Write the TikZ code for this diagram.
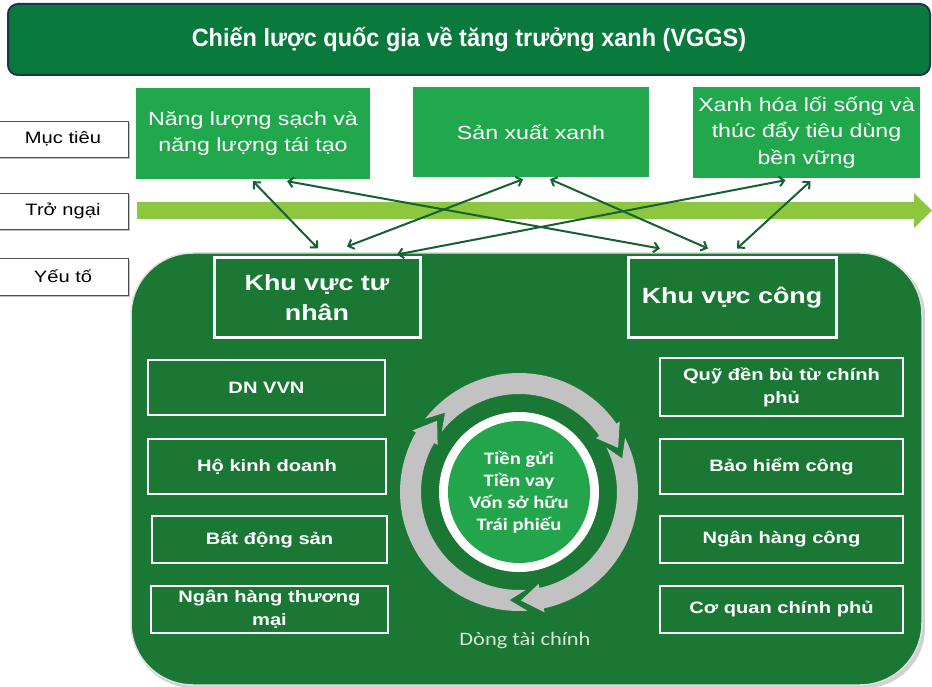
\documentclass[tikz,border=0pt]{standalone}
\usepackage{fontspec}
\setmainfont{Liberation Sans}
\newfontfamily\wfont[FakeStretch=1.22]{Liberation Sans}
\newfontfamily\tfont[FakeStretch=0.94]{Liberation Sans}
\newfontfamily\cfont[FakeStretch=1.18]{Carlito}
\usetikzlibrary{arrows.meta,calc}
\definecolor{titlegreen}{RGB}{10,122,60}
\definecolor{titleborder}{RGB}{28,52,80}
\definecolor{boxgreen}{RGB}{34,168,76}
\definecolor{regiongreen}{RGB}{27,120,52}
\definecolor{darkline}{RGB}{22,96,50}
\definecolor{bandgreen}{RGB}{141,198,63}
\definecolor{ringgray}{RGB}{194,194,194}
\definecolor{innergreen}{RGB}{34,165,75}
\definecolor{flowtext}{RGB}{215,232,215}
\newcommand\ringseg[2]{%
  \fill[ringgray] ({#1+1}:119) arc[start angle={#1+1}, end angle={#2-7}, radius=119]
    -- ({#2-7}:123) -- ({#2+4}:108.5) -- ({#2-7}:94) -- ({#2-7}:98)
    arc[start angle={#2-7}, end angle={#1+1}, radius=98]
    -- ({#1+10}:108.5) -- cycle;}
\begin{document}
\begin{tikzpicture}[x=1pt,y=-1pt,
  titlebox/.style={draw=titleborder, line width=2pt, fill=titlegreen, rounded corners=10pt,
    text=white, font=\tfont\bfseries\fontsize{25}{30}\selectfont, inner sep=0pt},
  lab/.style={draw=black!70, line width=0.8pt, fill=white, inner sep=0pt,
    font=\wfont\fontsize{16.5}{20}\selectfont},
  goal/.style={fill=boxgreen, text=white, inner sep=0pt, align=center,
    font=\wfont\fontsize{19}{26.5}\selectfont},
  kbox/.style={draw=white, line width=3pt, fill=regiongreen, text=white, inner sep=0pt, align=center,
    font=\wfont\bfseries\fontsize{22}{30}\selectfont},
  lbox/.style={draw=white, line width=2.5pt, fill=regiongreen, text=white, inner sep=0pt, align=center,
    font=\wfont\bfseries\fontsize{16.5}{23}\selectfont},
  conn/.style={draw=darkline, line width=2pt,
    {Straight Barb[length=5pt,width=10pt]}-{Straight Barb[length=5pt,width=10pt]}}]
\clip (0,0) rectangle (932,687);
\fill[white] (0,0) rectangle (932,687);
% title
\node[titlebox, minimum width=922, minimum height=71] (title) at (469,39.5)
  {Chiến lược quốc gia về tăng trưởng xanh (VGGS)};
% left labels
\fill[black!25] (-2,123) rectangle (130,159);
\node[lab, minimum width=130, minimum height=36] (l1) at (63,139) {Mục tiêu};
\fill[black!25] (-2,195) rectangle (130,231);
\node[lab, minimum width=130, minimum height=36] (l2) at (63,211) {Trở ngại};
\fill[black!25] (-2,260) rectangle (130,297);
\node[lab, minimum width=130, minimum height=37] (l3) at (63,276.5) {Yếu tố};
% goal boxes
\node[goal, minimum width=234, minimum height=91] (nl) at (253,133.5) {Năng lượng sạch và\\năng lượng tái tạo};
\node[goal, minimum width=236, minimum height=90] (sx) at (531,132) {Sản xuất xanh};
\node[goal, minimum width=227, minimum height=91] (xh) at (806.5,132.5) {Xanh hóa lối sống và\\thúc đẩy tiêu dùng\\bền vững};
% obstacle band arrow
\fill[bandgreen] (137,202) -- (914,202) -- (914,193) -- (932,210.5) -- (914,228) -- (914,219) -- (137,219) -- cycle;
% region
\fill[black!18, rounded corners=60pt] (133,256) rectangle (925,688);
\draw[draw=black!12, line width=1.5pt, fill=regiongreen, rounded corners=62pt] (131,253) rectangle (922,685);
% sector boxes
\node[kbox, minimum width=206, minimum height=79] (tn) at (317,297.5) {Khu vực tư\\nhân};
\node[kbox, minimum width=208, minimum height=79] (cg) at (732,297.5) {Khu vực công};
% lists
\node[lbox, minimum width=237, minimum height=55] (d1) at (266.5,387.5) {DN VVN};
\node[lbox, minimum width=238, minimum height=55] (d2) at (267,466.5) {Hộ kinh doanh};
\node[lbox, minimum width=235, minimum height=47] (d3) at (269.5,539.5) {Bất động sản};
\node[lbox, minimum width=237, minimum height=47] (d4) at (269.5,609.5) {Ngân hàng thương\\mại};
\node[lbox, minimum width=243, minimum height=58] (r1) at (781.5,387) {Quỹ đền bù từ chính\\phủ};
\node[lbox, minimum width=243, minimum height=55] (r2) at (781.5,466.5) {Bảo hiểm công};
\node[lbox, minimum width=243, minimum height=47] (r3) at (781.5,539.5) {Ngân hàng công};
\node[lbox, minimum width=243, minimum height=47] (r4) at (781.5,609.5) {Cơ quan chính phủ};
% cycle
\begin{scope}[shift={(519,492)}]
  \ringseg{-143}{-28}
  \ringseg{-28}{85}
  \ringseg{85}{217}
  \fill[white] (0,0) circle[radius=80];
\end{scope}
\node[circle, fill=innergreen, minimum size=142, inner sep=0pt, text=white, align=center,
  font=\cfont\bfseries\fontsize{17.5}{22}\selectfont] (core) at (519,492)
  {Tiền gửi\\Tiền vay\\Vốn sở hữu\\Trái phiếu};
\node[text=flowtext, font=\cfont\fontsize{19}{22}\selectfont, inner sep=0pt] (flow) at (525,641) {Dòng tài chính};
% connectors
\draw[conn] ([yshift=-2pt]nl.south) -- ([xshift=1pt,yshift=8pt]tn.north);
\draw[conn] ([xshift=34pt,yshift=-2pt]nl.south) -- ([xshift=-72pt,yshift=8pt]cg.north);
\draw[conn] ([xshift=-8pt,yshift=-2pt]sx.south) -- ([xshift=30pt,yshift=10pt]tn.north);
\draw[conn] ([xshift=19pt,yshift=-2pt]sx.south) -- ([xshift=-24pt,yshift=8pt]cg.north);
\draw[conn] ([xshift=-21pt,yshift=-2pt]xh.south) -- ([xshift=80pt,yshift=2pt]tn.north);
\draw[conn] ([xshift=4pt,yshift=-3pt]xh.south) -- ([xshift=5pt,yshift=8pt]cg.north);
\end{tikzpicture}
\end{document}
